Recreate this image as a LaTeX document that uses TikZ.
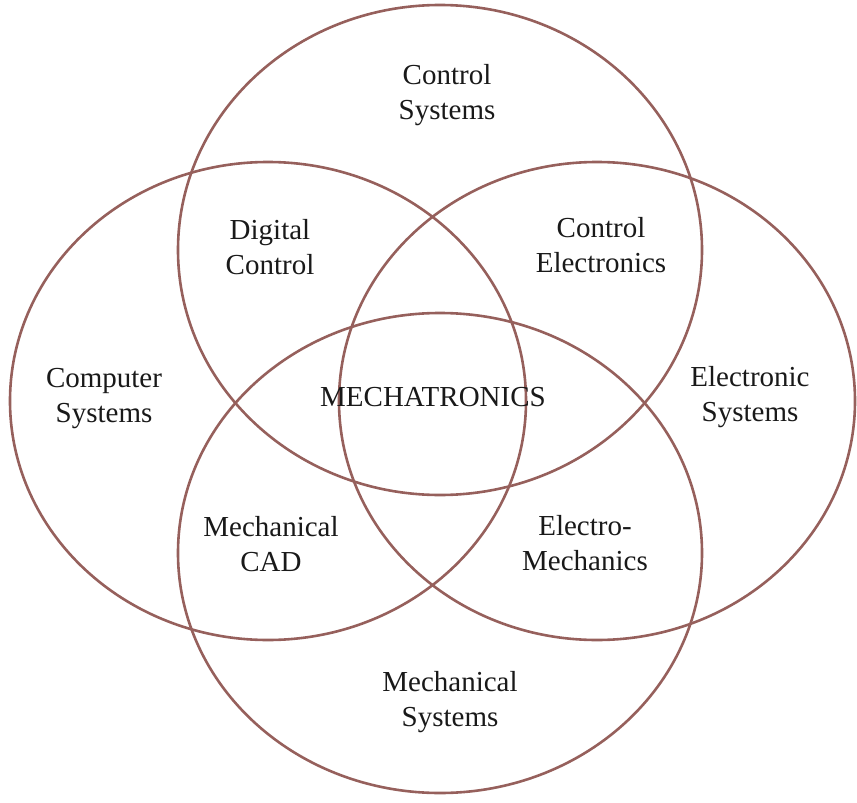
\documentclass[tikz,border=0pt]{standalone}
\usepackage{fontspec}
\setmainfont{Liberation Serif}
\definecolor{ringcol}{RGB}{150,96,92}
\begin{document}
\begin{tikzpicture}[x=1pt,y=-1pt,
  ring/.style={draw=ringcol, line width=2.6pt},
  lab/.style={align=center, font=\fontsize{29}{35}\selectfont, inner sep=0pt, text=black!90}]
\useasboundingbox (0,0) rectangle (857,803);
\draw[ring] (440,250) ellipse [x radius=262, y radius=245];
\draw[ring] (440,553) ellipse [x radius=262, y radius=240];
\draw[ring] (268,401) ellipse [x radius=258, y radius=239];
\draw[ring] (597,401) ellipse [x radius=258, y radius=239];
\node[lab] (ctrl) at (447,95) {Control\\Systems};
\node[lab] (dig) at (270,247) {Digital\\Control};
\node[lab] (cel) at (601,245) {Control\\Electronics};
\node[lab] (comp) at (104,399) {Computer\\Systems};
\node[lab] (mech) at (433,397) {MECHATRONICS};
\node[lab] (elec) at (750,397) {Electronic\\Systems};
\node[lab] (cad) at (271,544) {Mechanical\\CAD};
\node[lab] (em) at (585,543) {Electro-\\Mechanics};
\node[lab] (ms) at (450,702) {Mechanical\\Systems};
\end{tikzpicture}
\end{document}
